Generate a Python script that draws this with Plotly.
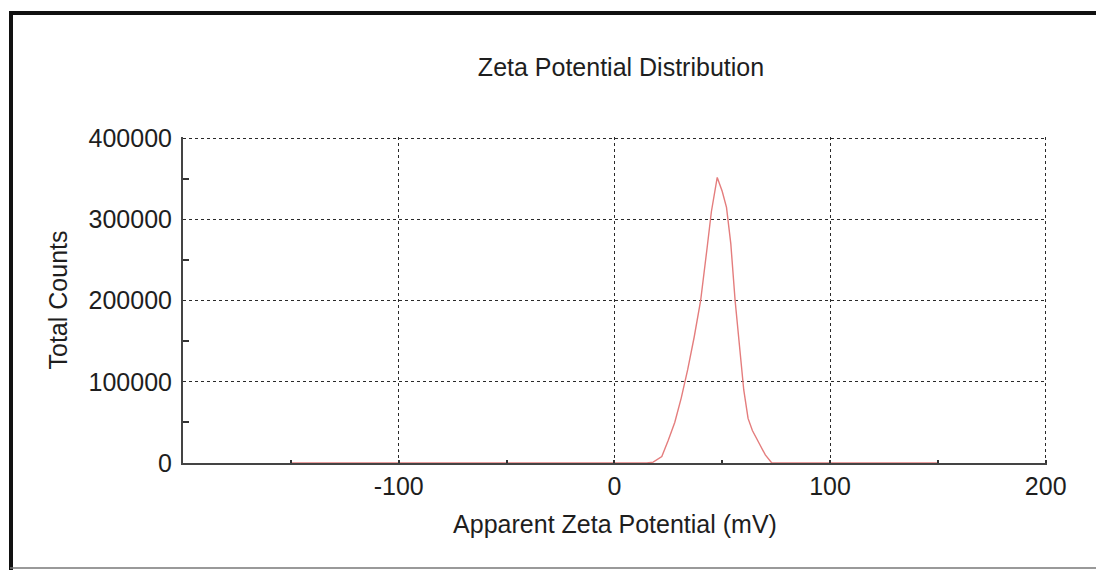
import plotly.graph_objects as go

# Data
zeta_mv = [-150, 15, 18, 22, 25, 28, 31, 34, 37, 40, 43, 45, 47.7, 50, 52, 54, 56, 58, 60, 62, 64, 67, 70, 73, 150]
counts = [0, 0, 1000, 8000, 28000, 50000, 80000, 115000, 155000, 200000, 265000, 310000,
          352000, 335000, 315000, 270000, 200000, 140000, 90000, 55000, 40000, 25000, 10000, 0, 0]

x_tickvals = [-100, 0, 100, 200]
y_tickvals = [0, 100000, 200000, 300000, 400000]
y_ticktext = ["0", "100000", "200000", "300000", "400000"]

# page body has an 8px margin: work in page pixels and shift
OFF = 8
W, H = 1104 - OFF, 570 - OFF
L, R, T, B = 183 - OFF, 1104 - 1047, 137 - OFF, 570 - 463
pw, ph = W - L - R, H - T - B

def px_x(p):
    return (p - OFF - L) / pw

def px_y(p):
    return (H - B - (p - OFF)) / ph

FONT = "Liberation Sans, Arial, sans-serif"
GRID = "#2a2a2a"
TXT = "#1e1e1e"
FS = 25

fig = go.Figure()
fig.add_trace(go.Scatter(
    x=zeta_mv, y=counts, mode="lines",
    line=dict(color="rgb(228,125,125)", width=1.4),
    showlegend=False, hoverinfo="skip",
))

fig.update_layout(
    width=W, height=H,
    margin=dict(l=L, r=R, t=T, b=B, autoexpand=False),
    paper_bgcolor="white", plot_bgcolor="white",
    font=dict(family=FONT, color=TXT, size=FS),
    title=dict(text="Zeta Potential Distribution", x=px_x(621), xref="paper",
               y=1 - (67 - OFF) / H, yref="container", xanchor="center", yanchor="middle",
               font=dict(size=FS, color=TXT, family=FONT)),
    xaxis=dict(
        range=[-200, 200.6], tickmode="array", tickvals=x_tickvals,
        ticktext=[str(v) for v in x_tickvals],
        showgrid=True, gridcolor=GRID, griddash="dot", gridwidth=1.4,
        showline=True, linecolor="#444", linewidth=2,
        zeroline=False, ticks="inside", ticklen=3, tickcolor="#333", tickwidth=2,
        minor=dict(tickmode="array", tickvals=[-150, -50, 50, 150], ticks="inside",
                   ticklen=3, tickcolor="#333", tickwidth=2, showgrid=False),
        tickfont=dict(size=FS, color=TXT),
        title=dict(text="Apparent Zeta Potential (mV)", standoff=16,
                   font=dict(size=FS, color=TXT)),
        fixedrange=True,
    ),
    yaxis=dict(
        range=[0, 401800], tickmode="array", tickvals=y_tickvals, ticktext=y_ticktext,
        showgrid=True, gridcolor=GRID, griddash="dot", gridwidth=1.4,
        showline=True, linecolor="#444", linewidth=2,
        zeroline=False, ticks="",
        minor=dict(tickmode="array", tickvals=[50000, 150000, 250000, 350000], ticks="inside",
                   ticklen=6, tickcolor="#333", tickwidth=2, showgrid=False),
        tickfont=dict(size=FS, color=TXT), ticklabelstandoff=4,
        title=dict(text="Total Counts", standoff=14, font=dict(size=FS, color=TXT)),
        fixedrange=True,
    ),
    shapes=[
        # top and left thick border
        dict(type="line", xref="paper", yref="paper",
             x0=px_x(10), x1=px_x(1104), y0=px_y(13), y1=px_y(13),
             line=dict(color="#111", width=4)),
        dict(type="line", xref="paper", yref="paper",
             x0=px_x(11), x1=px_x(11), y0=px_y(11), y1=px_y(570),
             line=dict(color="#111", width=4)),
        # bottom and right faint border
        dict(type="line", xref="paper", yref="paper",
             x0=px_x(10), x1=px_x(1104), y0=px_y(568), y1=px_y(568),
             line=dict(color="#777", width=1.5)),
        dict(type="line", xref="paper", yref="paper",
             x0=px_x(1103), x1=px_x(1103), y0=px_y(13), y1=px_y(568),
             line=dict(color="#ddd", width=1)),
    ],
)

fig.write_html("out.html")
